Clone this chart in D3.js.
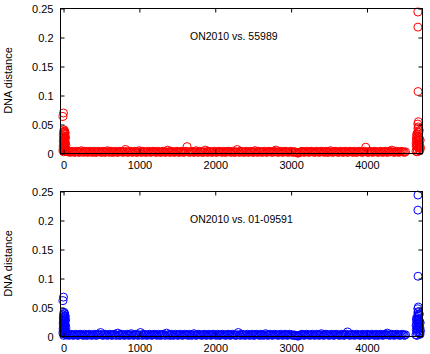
<!DOCTYPE html>
<html><head><meta charset="utf-8">
<script src="https://cdn.jsdelivr.net/npm/d3@7"></script>
<style>
html,body{margin:0;padding:0;background:#fff;}
svg{display:block;font-family:"Liberation Sans",Arial,Helvetica,sans-serif;}
</style></head>
<body><svg id="c" width="430" height="354"></svg>
<script>
// ---------------- data ----------------
const titles = ["ON2010 vs. 55989", "ON2010 vs. 01-09591"];
const yTicks = [0, 0.05, 0.1, 0.15, 0.2, 0.25];
const yTickLabels = ["0", "0.05", "0.1", "0.15", "0.2", "0.25"];
const xTicks = [0, 1000, 2000, 3000, 4000];
const xTickLabels = ["0", "1000", "2000", "3000", "4000"];

// head cluster (alignment start)
const headX = [0,1,2,3,4,5,6,7,8,9,10,11,12,13,14,15,16,17,18,19,20,21,22,23,24,25,26,27,28,29,30,32,34,36,38,40];
const headRedY = [0.004,0.012,0.021,0.030,0.008,0.017,0.026,0.035,0.002,0.014,0.023,0.033,0.040,0.010,0.019,0.028,0.037,0.006,0.015,0.024,0.032,0.038,0.011,0.020,0.029,0.036,0.005,0.016,0.025,0.034,0.009,0.018,0.027,0.007,0.013,0.003];
const headBlueY = [0.005,0.013,0.022,0.031,0.009,0.018,0.027,0.036,0.001,0.015,0.024,0.032,0.041,0.011,0.020,0.029,0.038,0.007,0.016,0.025,0.033,0.039,0.012,0.021,0.030,0.035,0.004,0.017,0.026,0.034,0.010,0.019,0.028,0.006,0.014,0.002];
const headOutX = [6, 0];
const headOutRedY = [0.069, 0.063];
const headOutBlueY = [0.067, 0.061];

// main band: positions 30, 45, 60 ... (one value per 15 positions)
const bandStart = 30, bandStep = 15;
const bandRedY = [
0.004,0.003,0.002,0.003,0.001,0.002,0.002,0.003,0.001,0.002,0.003,0.002,0.001,0.002,0.004,0.002,0.001,0.003,0.002,0.002,
0.001,0.003,0.002,0.002,0.001,0.003,0.002,0.001,0.002,0.003,0.002,0.002,0.001,0.003,0.002,0.001,0.002,0.004,0.002,0.001,
0.003,0.002,0.001,0.002,0.003,0.002,0.001,0.002,0.003,0.002,0.002,0.001,0.003,0.006,0.002,0.001,0.002,0.003,0.002,0.001,
0.002,0.003,0.002,0.001,0.002,0.004,0.002,0.001,0.003,0.002,0.002,0.001,0.002,0.003,0.002,0.001,0.002,0.003,0.002,0.002,
0.001,0.003,0.002,0.002,0.001,0.002,0.003,0.002,0.001,0.002,0.005,0.002,0.001,0.003,0.002,0.002,0.001,0.002,0.003,0.002,
0.001,0.002,0.003,0.002,0.001,0.002,0.003,0.011,0.002,0.001,0.002,0.003,0.002,0.001,0.002,0.004,0.002,0.001,0.003,0.002,
0.002,0.001,0.002,0.005,0.002,0.001,0.003,0.002,0.002,0.001,0.002,0.003,0.002,0.001,0.002,0.003,0.002,0.002,0.001,0.003,
0.002,0.001,0.002,0.003,0.002,0.002,0.001,0.003,0.002,0.001,0.002,0.006,0.002,0.001,0.003,0.002,0.002,0.001,0.002,0.003,
0.002,0.001,0.002,0.003,0.002,0.001,0.002,0.004,0.002,0.001,0.003,0.002,0.002,0.001,0.002,0.003,0.002,0.001,0.002,0.003,
0.002,0.002,0.001,0.003,0.002,0.005,0.002,0.001,0.002,0.003,0.002,0.001,0.002,0.003,0.002,0.002,0.001,0.002,0.003,0.002,
0.001,0.002,0.002,0.001,0.000,0.000,0.001,0.002,0.003,0.002,0.001,0.002,0.003,0.002,0.001,0.002,0.003,0.002,0.002,0.001,
0.002,0.003,0.002,0.001,0.002,0.003,0.002,0.002,0.001,0.003,0.002,0.001,0.002,0.004,0.002,0.001,0.002,0.003,0.002,0.002,
0.001,0.002,0.003,0.002,0.001,0.002,0.003,0.002,0.001,0.002,0.003,0.002,0.002,0.001,0.003,0.002,0.001,0.002,0.003,0.002,
0.002,0.001,0.002,0.003,0.010,0.002,0.001,0.002,0.003,0.002,0.001,0.002,0.003,0.002,0.002,0.001,0.002,0.003,0.002,0.001,
0.002,0.003,0.002,0.001,0.002,0.003,0.002,0.005,0.002,0.001,0.002,0.003,0.002,0.001,0.002,0.003,0.002,0.002,0.001,0.002];
const bandBlueY = [
0.003,0.002,0.003,0.001,0.002,0.003,0.002,0.001,0.002,0.003,0.002,0.001,0.002,0.003,0.002,0.002,0.001,0.003,0.002,0.001,
0.002,0.003,0.002,0.001,0.002,0.002,0.003,0.001,0.002,0.002,0.003,0.006,0.002,0.001,0.002,0.003,0.002,0.001,0.002,0.003,
0.002,0.001,0.002,0.003,0.002,0.001,0.005,0.002,0.001,0.003,0.002,0.002,0.001,0.002,0.003,0.002,0.001,0.002,0.004,0.002,
0.001,0.002,0.003,0.002,0.001,0.002,0.006,0.002,0.001,0.003,0.002,0.002,0.001,0.002,0.003,0.002,0.001,0.002,0.003,0.002,
0.002,0.001,0.003,0.002,0.001,0.002,0.003,0.002,0.001,0.005,0.002,0.002,0.001,0.003,0.002,0.001,0.002,0.003,0.002,0.001,
0.002,0.003,0.002,0.001,0.002,0.003,0.002,0.002,0.001,0.003,0.002,0.001,0.002,0.004,0.002,0.001,0.002,0.003,0.002,0.002,
0.001,0.002,0.003,0.002,0.001,0.002,0.003,0.002,0.001,0.002,0.003,0.002,0.002,0.001,0.003,0.002,0.001,0.002,0.003,0.002,
0.002,0.001,0.002,0.003,0.002,0.001,0.002,0.003,0.002,0.002,0.001,0.002,0.006,0.002,0.001,0.003,0.002,0.002,0.001,0.002,
0.003,0.002,0.001,0.002,0.003,0.002,0.001,0.002,0.003,0.002,0.002,0.001,0.003,0.002,0.001,0.002,0.004,0.002,0.001,0.002,
0.003,0.002,0.001,0.002,0.003,0.002,0.002,0.001,0.002,0.003,0.002,0.001,0.002,0.003,0.002,0.001,0.002,0.003,0.002,0.002,
0.001,0.002,0.001,0.001,0.000,0.000,0.001,0.002,0.003,0.002,0.001,0.002,0.003,0.002,0.002,0.001,0.002,0.003,0.002,0.001,
0.002,0.003,0.002,0.001,0.002,0.004,0.002,0.001,0.002,0.003,0.002,0.002,0.001,0.002,0.003,0.002,0.001,0.002,0.003,0.002,
0.002,0.001,0.002,0.003,0.002,0.001,0.002,0.003,0.007,0.002,0.001,0.002,0.003,0.002,0.001,0.002,0.003,0.002,0.002,0.001,
0.002,0.003,0.002,0.001,0.002,0.003,0.002,0.001,0.002,0.003,0.002,0.002,0.001,0.003,0.002,0.001,0.002,0.003,0.002,0.001,
0.002,0.003,0.002,0.005,0.002,0.001,0.002,0.003,0.002,0.001,0.002,0.003,0.002,0.002,0.001,0.002,0.003,0.002,0.001,0.002];

// tail cluster (alignment end)
const tailX = [4652,4656,4660,4664,4668,4672,4676,4680,4684,4688,4692,4696,4700,4704,4708,4712,4654,4658,4662,4666,4670,4674,4678,4682,4686,4690,4694,4698,4702,4706,4676,4684];
const tailRedY = [0.003,0.012,0.021,0.030,0.006,0.015,0.024,0.036,0.009,0.018,0.027,0.039,0.004,0.013,0.022,0.008,0.017,0.026,0.033,0.002,0.011,0.020,0.042,0.045,0.029,0.035,0.014,0.023,0.005,0.010,0.050,0.054];
const tailBlueY = [0.002,0.011,0.020,0.029,0.007,0.016,0.025,0.034,0.010,0.019,0.028,0.038,0.005,0.014,0.023,0.009,0.018,0.027,0.032,0.001,0.012,0.021,0.040,0.042,0.030,0.036,0.015,0.024,0.006,0.003,0.047,0.050];
const tailOutX = [4678, 4678, 4680];
const tailOutRedY = [0.243, 0.217, 0.106];
const tailOutBlueY = [0.243, 0.217, 0.103];

const colors = ["#ff0000", "#0000ff"];

// ---------------- drawing ----------------
const svg = d3.select("#c");
const W = 430;
const left = 60, right = 423;
const panels = [{top: 8, bottom: 153}, {top: 191, bottom: 336}];
const x = d3.scaleLinear().domain([-40, 4745]).range([left, right]);

function pts(xs, ys) { return xs.map((v, i) => ({x: v, y: ys[i]})); }

const series = [
  {head: headRedY, headOut: headOutRedY, band: bandRedY, tail: tailRedY, tailOut: tailOutRedY},
  {head: headBlueY, headOut: headOutBlueY, band: bandBlueY, tail: tailBlueY, tailOut: tailOutBlueY}
];

panels.forEach((p, k) => {
  const y = d3.scaleLinear().domain([0, 0.25]).range([p.bottom, p.top]);
  const s = series[k];
  const bandX = s.band.map((_, i) => bandStart + bandStep * i);
  const data = [].concat(
    pts(bandX, s.band),
    pts(headX, s.head),
    pts(tailX, s.tail),
    pts(headOutX, s.headOut),
    pts(tailOutX, s.tailOut)
  );
  const g = svg.append("g");
  g.selectAll("circle").data(data).join("circle")
    .attr("cx", d => x(d.x)).attr("cy", d => y(d.y)).attr("r", 4)
    .attr("fill", "none").attr("stroke", colors[k]).attr("stroke-width", 1);

  // border
  svg.append("rect")
    .attr("x", left + 0.5).attr("y", p.top + 0.5)
    .attr("width", right - left - 1).attr("height", p.bottom - p.top)
    .attr("fill", "none").attr("stroke", "#000").attr("stroke-width", 1);

  // axes with inward ticks
  const yl = svg.append("g").attr("transform", `translate(${left + 0.5},0.5)`)
    .call(d3.axisLeft(y).tickValues(yTicks).tickSize(-4).tickPadding(7)
      .tickFormat((d, i) => yTickLabels[i]));
  const yr = svg.append("g").attr("transform", `translate(${right - 0.5},0.5)`)
    .call(d3.axisRight(y).tickValues(yTicks).tickSize(-4).tickFormat(""));
  const xb = svg.append("g").attr("transform", `translate(0.5,${p.bottom + 0.5})`)
    .call(d3.axisBottom(x).tickValues(xTicks).tickSize(-4).tickPadding(6)
      .tickFormat((d, i) => xTickLabels[i]));
  const xt = svg.append("g").attr("transform", `translate(0.5,${p.top + 0.5})`)
    .call(d3.axisTop(x).tickValues(xTicks).tickSize(-4).tickFormat(""));
  [yl, yr, xb, xt].forEach(a => {
    a.select(".domain").remove();
    a.selectAll("line").attr("stroke", "#000");
    a.selectAll("text").attr("fill", "#000")
      .style("font-family", '"Liberation Sans", Arial, sans-serif').style("font-size", "11px");
  });
  xb.selectAll("text").attr("dy", null).attr("y", 15).attr("dominant-baseline", null);

  // title
  svg.append("text").attr("x", 190).attr("y", p.top + 32)
    .attr("font-size", "10.5px").attr("fill", "#000").text(titles[k]);

  // y label
  svg.append("text")
    .attr("transform", `translate(12,${(p.top + p.bottom) / 2}) rotate(-90)`)
    .attr("text-anchor", "middle").attr("font-size", "11px").attr("fill", "#000")
    .text("DNA distance");
});
</script></body></html>
